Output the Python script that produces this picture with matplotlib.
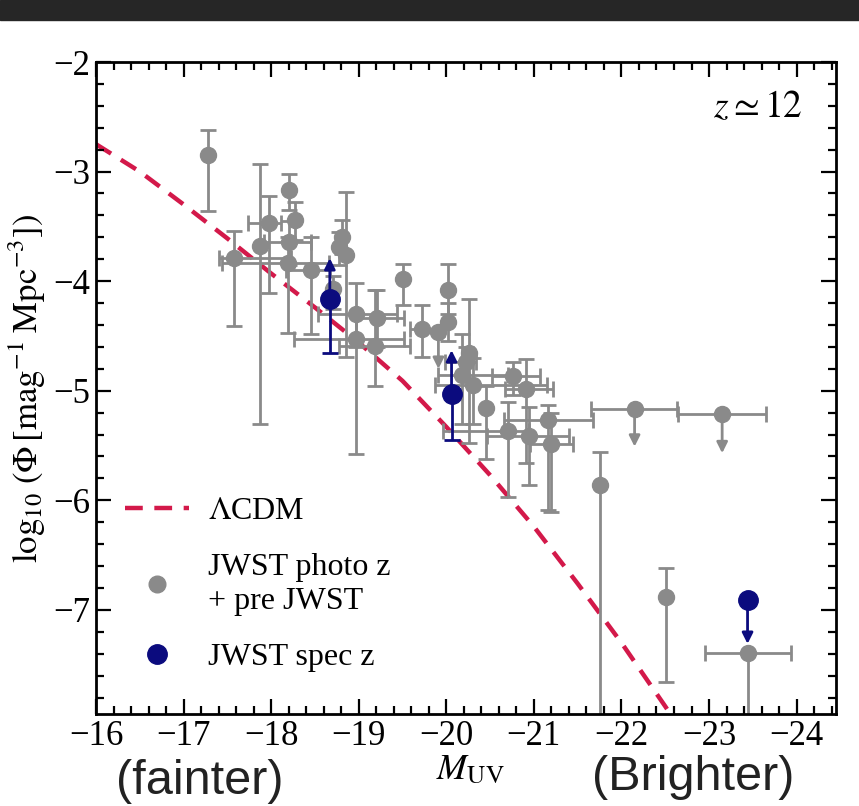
import matplotlib
matplotlib.use('Agg')
import matplotlib.pyplot as plt
import numpy as np
from matplotlib.lines import Line2D
from matplotlib.patches import Rectangle

plt.rcParams['font.family'] = ['Liberation Serif', 'DejaVu Serif']
plt.rcParams['mathtext.fontset'] = 'stix'

# LCDM model curve
lcdm_muv = [-16.0, -16.5, -17.0, -17.5, -18.0, -18.5, -19.0, -19.5, -20.0, -20.5, -21.0, -21.5, -22.0, -22.5, -22.6]
lcdm_phi = [-2.75, -3.00, -3.30, -3.61, -3.93, -4.24, -4.56, -4.91, -5.33, -5.77, -6.24, -6.76, -7.30, -7.88, -8.00]

nan = np.nan
# JWST photo z + pre JWST (gray); bounds are absolute values, nan = no bar
g_x = [-17.28, -17.58, -17.87, -17.97, -18.20, -18.27, -18.20, -18.19, -18.46, -18.81, -18.77, -18.86,
       -18.71, -18.97, -19.21, -18.97, -19.19, -19.51, -19.72, -20.02, -20.02, -20.26, -20.22, -20.18,
       -20.31, -20.45, -20.76, -20.91, -20.70, -20.95, -21.16, -21.20, -21.75, -22.51, -23.44]
g_y = [-2.85, -3.79, -3.68, -3.47, -3.17, -3.44, -3.64, -3.83, -3.90, -3.60, -3.69, -3.76,
       -4.07, -4.30, -4.34, -4.53, -4.59, -3.98, -4.44, -4.08, -4.37, -4.66, -4.74, -4.86,
       -4.95, -5.16, -4.87, -4.98, -5.37, -5.41, -5.27, -5.49, -5.86, -6.88, -7.39]
g_xlo = [nan, -16.93, nan, -17.83, nan, nan, -17.95, -17.72, -18.25, nan, nan, nan,
         nan, -18.50, -18.90, -18.42, -18.80, nan, -19.47, nan, nan, nan, -20.10, -19.66,
         -19.47, nan, -20.45, -20.60, -20.46, -20.50, -20.65, -20.95, nan, nan, -22.94]
g_xhi = [nan, -17.75, nan, -18.20, nan, nan, -18.48, -18.94, -18.75, nan, nan, nan,
         nan, -19.40, -19.45, -19.68, -19.60, nan, -19.85, nan, nan, nan, -20.46, -20.46,
         -20.75, nan, -21.00, -21.15, -21.44, -21.44, -21.66, -21.44, nan, nan, -23.93]
g_ylo = [-3.36, -4.41, -5.30, -4.11, -3.35, -3.62, -3.85, -4.47, -4.48, -3.75, -3.85, -4.69,
         -4.25, -4.60, -4.60, -5.58, -4.96, -4.22, -4.69, -4.30, -4.55, -5.48, -4.90, -5.30,
         -5.30, -5.62, -5.04, -5.66, -5.97, -5.86, -6.09, -6.11, -8.50, -7.66, -8.50]
g_yhi = [-2.62, -3.54, -2.93, -3.22, -3.02, -3.28, -3.45, -3.60, -3.60, -3.44, -3.55, -3.19,
         -3.95, -4.02, -4.08, -4.30, -4.08, -3.84, -4.22, -3.84, -4.20, -4.16, -4.60, -4.48,
         -4.70, -4.96, -4.74, -4.71, -5.10, -5.15, -5.13, -5.20, -5.56, -6.62, nan]

# gray upper limits: point, arrow tip, x bounds
gul_x = [-19.91, -22.15, -23.15]
gul_y = [-4.46, -5.17, -5.21]
gul_tip = [-4.80, -5.51, -5.57]
gul_xlo = [nan, -21.66, -22.65]
gul_xhi = [nan, -22.65, -23.65]

# JWST spec z (blue)
b_x = [-18.67, -20.06, -23.44]
b_y = [-4.16, -5.03, -6.91]
b_tip = [-3.79, -4.63, -7.31]
b_ylo = [-4.66, -5.45, nan]

gray = '#8a8a8a'
navy = '#0b0b7e'
red = '#d3194a'

fig = plt.figure(figsize=(8.59, 8.06), dpi=100)
fig.patches.append(Rectangle((0, 1 - 20 / 806), 1, 20 / 806, transform=fig.transFigure,
                             color='#262626', zorder=0))
ax = fig.add_axes([96 / 859, 1 - 714 / 806, 740 / 859, 652 / 806])

ax.plot(lcdm_muv, lcdm_phi, color=red, lw=3.2, dashes=(4, 2.6), zorder=1)


def err(v, b):
    return 0.0 if np.isnan(b) else abs(v - b)


for x, y, xl, xh, yl, yh in zip(g_x, g_y, g_xlo, g_xhi, g_ylo, g_yhi):
    xe = None
    if not np.isnan(xl):
        xe = [[err(x, xl)], [err(x, xh)]]
    ax.errorbar([x], [y], yerr=[[err(y, yl)], [err(y, yh)]], xerr=xe, fmt='o', color=gray,
                ms=11.5, elinewidth=2, capsize=6, capthick=2, zorder=2)

for x, y, tip, xl, xh in zip(gul_x, gul_y, gul_tip, gul_xlo, gul_xhi):
    xe = None
    if not np.isnan(xl):
        xe = [[err(x, xl)], [err(x, xh)]]
    ax.errorbar([x], [y], xerr=xe, fmt='o', color=gray, ms=11.5, elinewidth=2, capsize=6,
                capthick=2, zorder=2)
    ax.annotate('', xy=(x, tip), xytext=(x, y), zorder=2,
                arrowprops=dict(arrowstyle='-|>', color=gray, lw=2, mutation_scale=16,
                                shrinkA=0, shrinkB=0))

for x, y, tip, yl in zip(b_x, b_y, b_tip, b_ylo):
    if not np.isnan(yl):
        ax.errorbar([x], [y], yerr=[[err(y, yl)], [0]], fmt='none', ecolor=navy,
                    elinewidth=2, capsize=6, capthick=2, zorder=3)
    ax.annotate('', xy=(x, tip), xytext=(x, y), zorder=3,
                arrowprops=dict(arrowstyle='-|>', color=navy, lw=2, mutation_scale=16,
                                shrinkA=0, shrinkB=0))
    ax.plot([x], [y], 'o', color=navy, ms=14, zorder=4)

ax.set_xlim(-16, -24.45)
ax.set_ylim(-7.95, -2)
ax.set_xticks(np.arange(-16, -25, -1))
ax.set_yticks(np.arange(-2, -8, -1))
ax.minorticks_on()
ax.set_xticks(np.arange(-16, -24.5, -0.2), minor=True)
ax.set_yticks(np.arange(-2, -7.95, -0.2), minor=True)
ax.tick_params(which='both', direction='in', top=True, right=True, width=1.6, labelsize=25, pad=4)
ax.tick_params(which='major', length=11)
ax.tick_params(which='minor', length=6)
for s in ax.spines.values():
    s.set_linewidth(2)

ax.set_ylabel(r'$\log_{10}\,(\Phi\,[\mathrm{mag}^{-1}\;\mathrm{Mpc}^{-3}])$', fontsize=25, labelpad=4)
ax.text(0.955, 0.93, r'$z \simeq 12$', transform=ax.transAxes, fontsize=27, ha='right', va='center')

fig.text(470 / 859, 1 - 771 / 806, r'$M_{\mathrm{UV}}$', fontsize=26, ha='center', va='center')
fig.text(200 / 859, 1 - 781 / 806, '(fainter)', fontsize=35, family='Liberation Sans',
         ha='center', va='center', color='#222222')
fig.text(693 / 859, 1 - 777 / 806, '(Brighter)', fontsize=35, family='Liberation Sans',
         ha='center', va='center', color='#222222')

handles = [Line2D([], [], color=red, lw=3.2, dashes=(4, 2.6)),
           Line2D([], [], ls='none', marker='o', color=gray, ms=12),
           Line2D([], [], ls='none', marker='o', color=navy, ms=14)]
labels = [r'$\Lambda$CDM', 'JWST photo z\n+ pre JWST', 'JWST spec z']
ax.legend(handles, labels, loc='lower left', bbox_to_anchor=(0.0, 0.02), frameon=False,
          fontsize=23, handlelength=2.0, labelspacing=0.85, handletextpad=0.6)

fig.savefig('out.png', dpi=100)
